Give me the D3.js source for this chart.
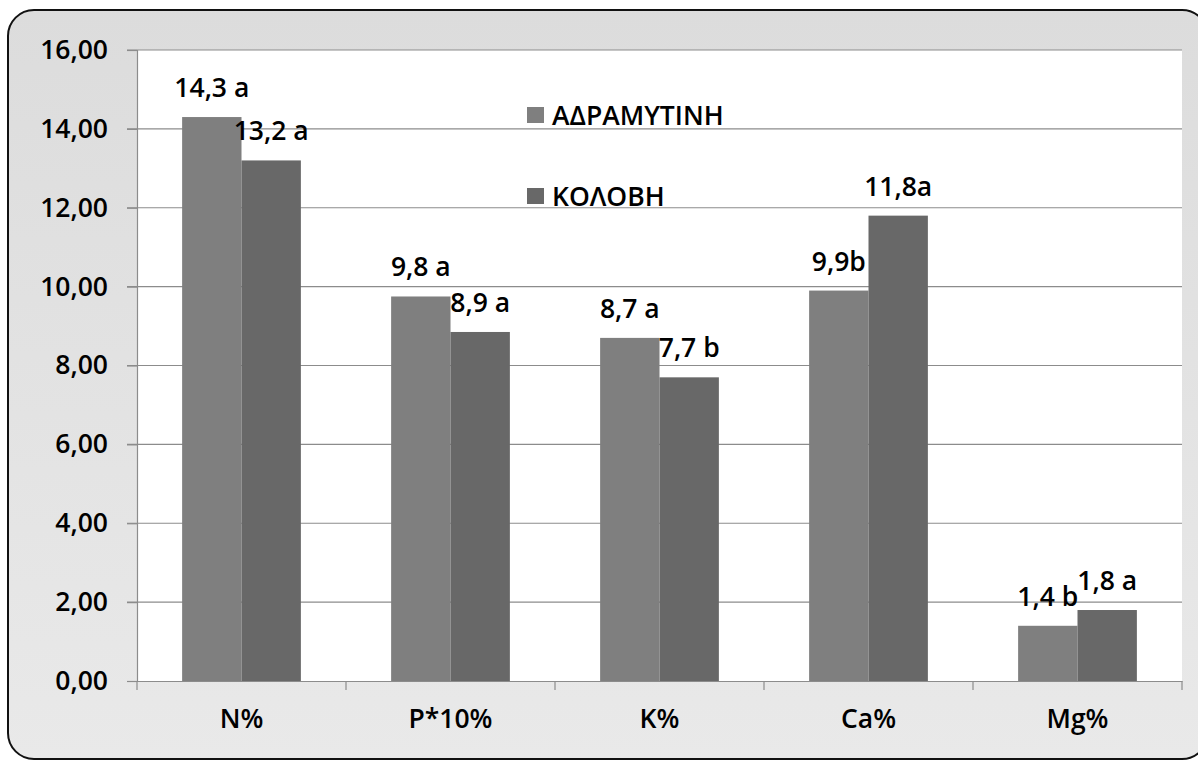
<!DOCTYPE html>
<html>
<head>
<meta charset="utf-8">
<script src="https://cdn.jsdelivr.net/npm/d3@7"></script>
<style>
  body { margin: 0; background: #fff; }
  svg text { font-family: "Open Sans", Lato, sans-serif; font-weight: 600; fill: #000; }
</style>
</head>
<body>
<div id="chart"></div>
<script>
// data
const categories = ["N%", "P*10%", "K%", "Ca%", "Mg%"];
const seriesNames = ["ΑΔΡΑΜΥΤΙΝΗ", "ΚΟΛΟΒΗ"];
const adramytini = [14.3, 9.75, 8.7, 9.9, 1.4];
const kolovi = [13.2, 8.85, 7.7, 11.8, 1.8];
const adramytiniLabels = ["14,3 a", "9,8 a", "8,7 a", "9,9b", "1,4 b"];
const koloviLabels = ["13,2 a", "8,9 a", "7,7 b", "11,8a", "1,8 a"];
const yTicks = [0, 2, 4, 6, 8, 10, 12, 14, 16];

const W = 1198, H = 762;
const colors = ["#7f7f7f", "#686868"];
const fontSize = "26.5px";

const svg = d3.select("#chart").append("svg")
  .attr("width", W).attr("height", H);

// outer frame with gradient
const defs = svg.append("defs");
const grad = defs.append("linearGradient").attr("id", "bg")
  .attr("x1", 0).attr("y1", 0).attr("x2", 0).attr("y2", 1);
grad.append("stop").attr("offset", "0%").attr("stop-color", "#dcdcdc");
grad.append("stop").attr("offset", "100%").attr("stop-color", "#e9e9e9");

svg.append("rect")
  .attr("x", 8).attr("y", 10)
  .attr("width", 1200).attr("height", 749)
  .attr("rx", 26).attr("ry", 26)
  .attr("fill", "url(#bg)")
  .attr("stroke", "#111").attr("stroke-width", 2);

const margin = { left: 137, top: 50, right: 1182, bottom: 681 };

const x = d3.scaleBand().domain(categories)
  .range([margin.left, margin.right]);
const y = d3.scaleLinear().domain([0, 16])
  .range([margin.bottom, margin.top]);

// plot area
svg.append("rect")
  .attr("x", margin.left).attr("y", margin.top)
  .attr("width", margin.right - margin.left)
  .attr("height", margin.bottom - margin.top)
  .attr("fill", "#fff");

// gridlines
svg.append("g").selectAll("line")
  .data(yTicks.filter(d => d > 0))
  .join("line")
  .attr("x1", margin.left - 10).attr("x2", margin.right)
  .attr("y1", d => y(d)).attr("y2", d => y(d))
  .attr("stroke", "#8c8c8c").attr("stroke-width", 1.2);

// y axis
const yAxis = svg.append("g")
  .attr("transform", `translate(${margin.left},0)`)
  .call(d3.axisLeft(y).tickValues(yTicks).tickSize(10).tickPadding(19)
    .tickFormat(d => d3.format(".2f")(d).replace(".", ",")));
yAxis.select(".domain").attr("stroke", "#8c8c8c").attr("stroke-width", 1.2);
yAxis.selectAll(".tick line").attr("stroke", "#8c8c8c").attr("stroke-width", 1.2);
yAxis.selectAll(".tick text").style("font-size", fontSize);

// x axis
const xAxisGroup = svg.append("g")
  .attr("transform", `translate(0,${margin.bottom})`)
  .call(d3.axisBottom(x).tickSize(0).tickPadding(28));
xAxisGroup.select(".domain").attr("stroke", "#8c8c8c").attr("stroke-width", 1.2);
xAxisGroup.selectAll(".tick text").style("font-size", fontSize);
// category boundary ticks
xAxisGroup.append("g").selectAll("line")
  .data(categories.map(c => x(c)).concat([margin.right]))
  .join("line")
  .attr("x1", d => d).attr("x2", d => d)
  .attr("y1", 0).attr("y2", 9)
  .attr("stroke", "#8c8c8c").attr("stroke-width", 1.2);

// bars
const inner = d3.scaleBand().domain([0, 1])
  .range([0, x.bandwidth()]).paddingOuter(0.76).paddingInner(0);

const series = [adramytini, kolovi];
const labels = [adramytiniLabels, koloviLabels];

series.forEach((vals, s) => {
  svg.append("g").selectAll("rect")
    .data(vals)
    .join("rect")
    .attr("x", (d, i) => x(categories[i]) + inner(s))
    .attr("y", d => y(d))
    .attr("width", inner.bandwidth())
    .attr("height", d => y(0) - y(d))
    .attr("fill", colors[s]);

  svg.append("g").selectAll("text")
    .data(vals)
    .join("text")
    .attr("x", (d, i) => x(categories[i]) + inner(s) + inner.bandwidth() / 2)
    .attr("y", d => y(d) - 20)
    .attr("text-anchor", "middle")
    .style("font-size", fontSize)
    .text((d, i) => labels[s][i]);
});

// legend
const legend = svg.append("g");
seriesNames.forEach((name, i) => {
  const ly = 115 + i * 81;
  legend.append("rect")
    .attr("x", 527).attr("y", ly - 8)
    .attr("width", 17).attr("height", 16)
    .attr("fill", colors[i]);
  legend.append("text")
    .attr("x", 552).attr("y", ly)
    .attr("dy", "0.36em")
    .style("font-size", fontSize)
    .text(name);
});
</script>
</body>
</html>
